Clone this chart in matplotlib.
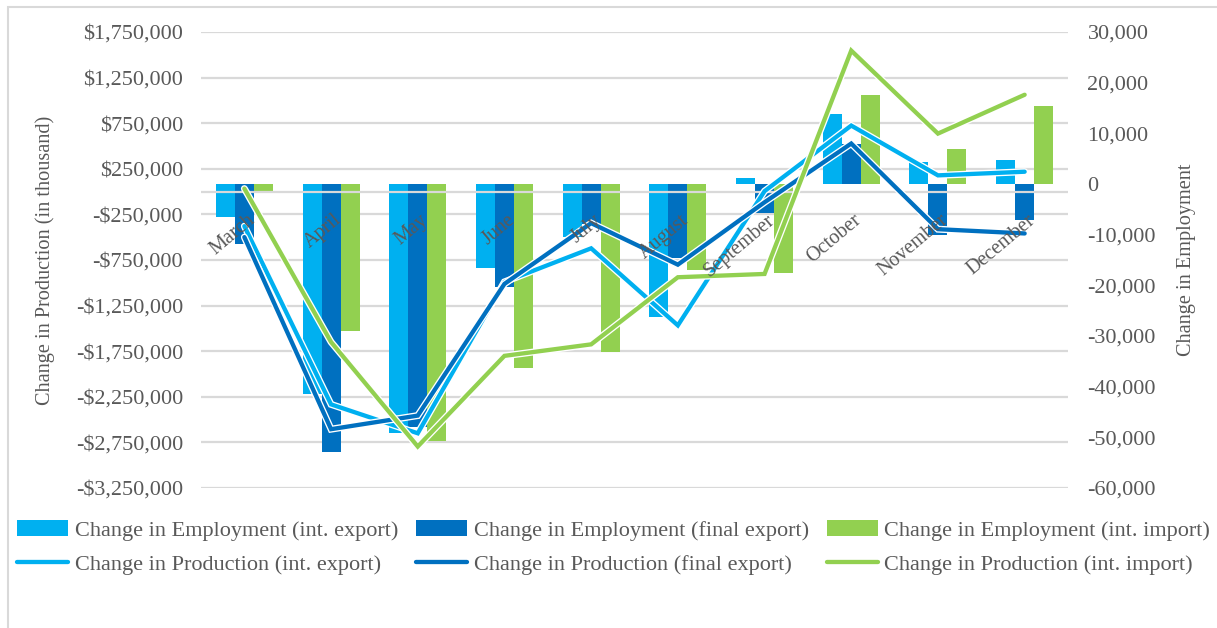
import matplotlib
matplotlib.use("Agg")
import matplotlib.pyplot as plt
import matplotlib.patheffects as pe
from matplotlib.patches import Rectangle
from matplotlib.ticker import FuncFormatter, MultipleLocator
import matplotlib.transforms as mtransforms
import numpy as np

months = ['March', 'April', 'May', 'June', 'July', 'August',
          'September', 'October', 'November', 'December']

# employment change (right axis)
emp_int_export = [-6450, -41450, -49150, -16600, -10500, -26300, 1100, 13750, 4300, 4700]
emp_final_export = [-11900, -52900, -47900, -20300, -7900, -14700, -5800, 7800, -10100, -7100]
emp_int_import = [-1300, -28950, -50800, -36250, -33200, -17000, -17500, 17550, 6850, 15400]

# production change, in thousand (left axis)
prod_int_export = [-379000, -2333000, -2650000, -990000, -622000, -1467000, 5000, 724000, 178000, 218000]
prod_final_export = [-499000, -2605000, -2456000, -1012000, -346000, -801000, -117000, 527000, -412000, -459000]
prod_int_import = [33000, -1649000, -2795000, -1801000, -1675000, -939000, -903000, 1546000, 636000, 1062000]

c_light = '#00B0F0'
c_dark = '#0070C0'
c_green = '#92D050'
grid_c = '#D9D9D9'
txt_c = '#595959'

plt.rcParams['font.family'] = ['Liberation Serif', 'DejaVu Serif']

fig = plt.figure(figsize=(12.17, 6.28), dpi=100)
rect = [201 / 1217, 1 - 488 / 628, 867 / 1217, 456 / 628]

# base axes: left scale + gridlines
ax = fig.add_axes(rect)
ax.set_xlim(-0.5, len(months) - 0.5)
ax.set_ylim(-3250000, 1750000)
ax.set_yticks(np.arange(-3250000, 1750001, 500000))
ax.yaxis.set_major_formatter(FuncFormatter(
    lambda v, p: ('-$' if v < 0 else '$') + f'{abs(v):,.0f}'))
ax.grid(axis='y', color=grid_c, linewidth=1.6)
ax.set_axisbelow(True)
ax.set_xticks([])
ax.tick_params(axis='y', length=0, pad=13, labelsize=16, labelcolor=txt_c)
for s in ax.spines.values():
    s.set_visible(False)

# bars on the employment scale
ax2 = ax.twinx()
x = np.arange(len(months))
w = 0.219
b1 = ax2.bar(x - w, emp_int_export, w, color=c_light, label='Change in Employment (int. export)')
b2 = ax2.bar(x, emp_final_export, w, color=c_dark, label='Change in Employment (final export)')
b3 = ax2.bar(x + w, emp_int_import, w, color=c_green, label='Change in Employment (int. import)')
ax2.set_ylim(-60000, 30000)
ax2.yaxis.set_major_locator(MultipleLocator(10000))
ax2.yaxis.set_major_formatter(FuncFormatter(lambda v, p: f'{v:,.0f}'))
ax2.tick_params(axis='y', length=0, pad=14, labelsize=16, labelcolor=txt_c)
for s in ax2.spines.values():
    s.set_visible(False)

# lines on top, sharing the production scale
ax3 = fig.add_axes(rect, sharex=ax, sharey=ax, frameon=False)
ax3.patch.set_visible(False)
ax3.axis('off')
ax3.axhline(0, color=grid_c, linewidth=1.6, zorder=1)
outline = [pe.Stroke(linewidth=5.0, foreground='white'), pe.Normal()]
l1, = ax3.plot(x, prod_int_export, color=c_light, lw=3.1, solid_capstyle='round',
               solid_joinstyle='miter', path_effects=outline, label='Change in Production (int. export)')
l2, = ax3.plot(x, prod_final_export, color=c_dark, lw=3.1, solid_capstyle='round',
               solid_joinstyle='miter', path_effects=outline, label='Change in Production (final export)')
l3, = ax3.plot(x, prod_int_import, color=c_green, lw=3.1, solid_capstyle='round',
               solid_joinstyle='miter', path_effects=outline, label='Change in Production (int. import)')

# month names hang from the zero line
off = mtransforms.ScaledTranslation(2 / 100, -19 / 100, fig.dpi_scale_trans)
for i, m in enumerate(months):
    ax3.text(i, 0, m, transform=ax3.transData + off, rotation=40,
             rotation_mode='anchor', ha='right', va='top',
             fontsize=14.5, color=txt_c, zorder=5)

fig.text(45 / 1217, 1 - 260 / 628, 'Change in Production (in thousand)', rotation=90,
         ha='center', va='center', fontsize=14.6, color=txt_c)
fig.text(1187 / 1217, 1 - 260 / 628, 'Change in Employment', rotation=90,
         ha='center', va='center', fontsize=14.6, color=txt_c)

handles = [b1, l1, b2, l2, b3, l3]
fig.legend(handles, [h.get_label() for h in handles], ncol=3,
           loc='upper left', bbox_to_anchor=(17 / 1217, 1 - 520 / 628),
           frameon=False, fontsize=16, labelcolor=txt_c, handlelength=2.3,
           handletextpad=0.3, columnspacing=0.8, labelspacing=0.63,
           borderpad=0, borderaxespad=0)

# chart area border
fig.patches.append(Rectangle((8 / 1217, -0.1), 1.2, 1 - 7 / 628 + 0.1,
                             transform=fig.transFigure, fill=False,
                             edgecolor=grid_c, linewidth=1.5))

fig.savefig('out.png', dpi=100)
